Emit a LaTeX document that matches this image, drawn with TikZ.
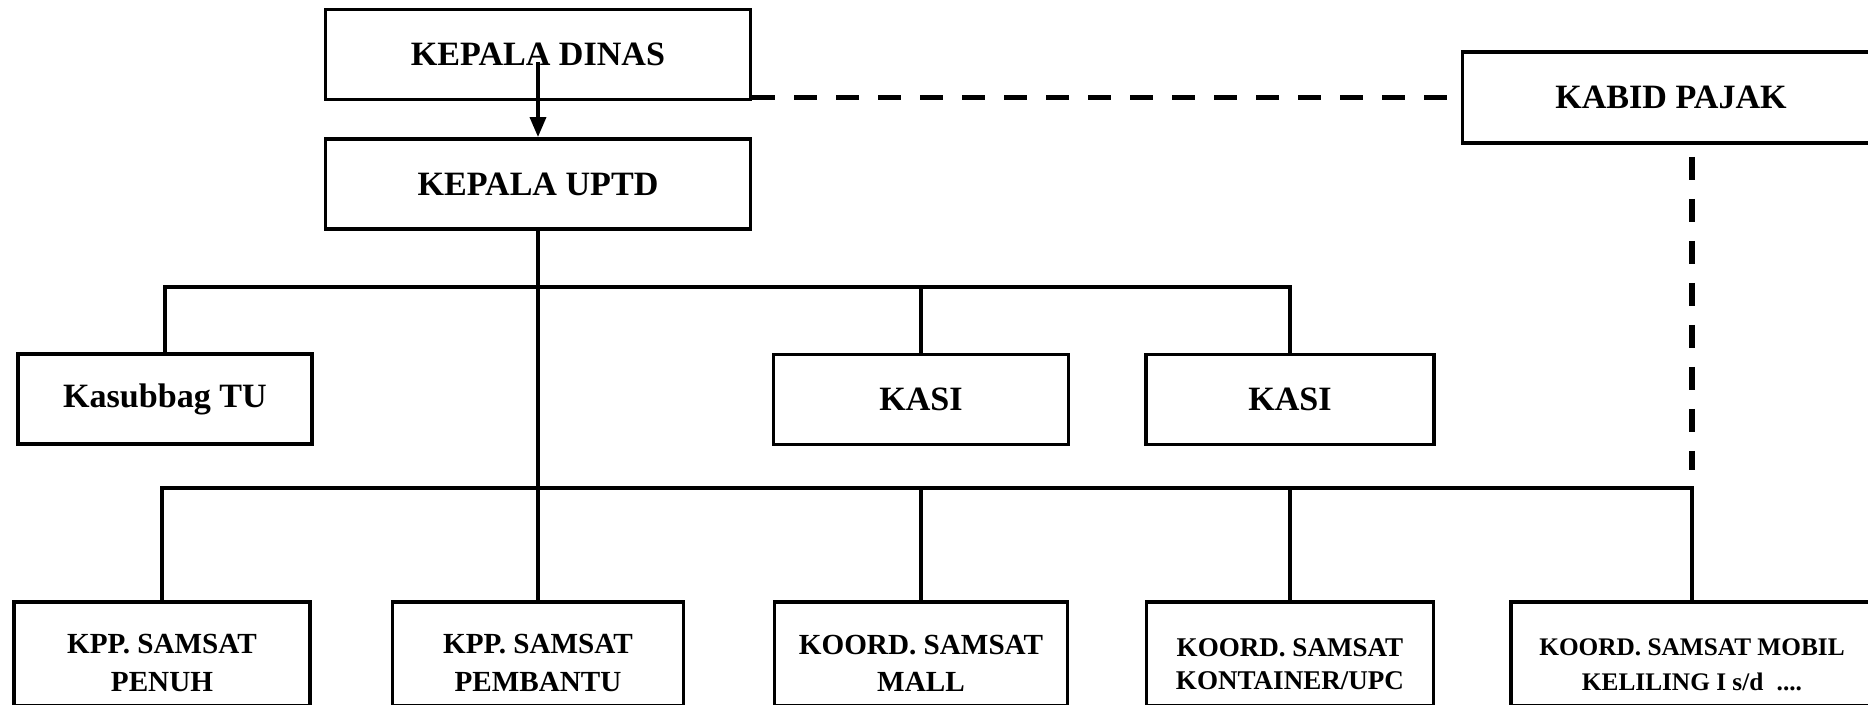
\documentclass[tikz,border=0pt]{standalone}
\usepackage{fontspec}
\setmainfont{Liberation Serif}
\usetikzlibrary{arrows.meta}

\newcommand{\lowstrut}{\rule{0pt}{3.8mm}}

\tikzset{
    box/.style={draw, line width=1.1pt, inner sep=0pt, align=center, minimum height=9mm,
        font=\fontsize{9.7}{11}\selectfont\bfseries},
    lowbox/.style={box, minimum height=10.4mm, font=\fontsize{8.3}{10.8}\selectfont\bfseries},
    link/.style={line width=1pt},
    dash link/.style={line width=1.5pt, dash pattern=on 2.3mm off 1.9mm},
}

\begin{document}
\begin{tikzpicture}[x=0.1mm, y=-0.1mm]
    \clip (0,0) rectangle (1868,705);

    \node[box, minimum width=42.5mm] (dinas) at (538,54.5) {KEPALA DINAS};
    \node[box, minimum width=42.5mm] (uptd) at (538,184) {KEPALA UPTD};
    \node[box, minimum width=41.7mm, minimum height=9.1mm] (kabid) at (1671,97.5) {KABID PAJAK};

    \node[box, minimum width=29.4mm] (tu) at (165,399) {Kasubbag TU};
    \node[box, minimum width=29.5mm] (kasi1) at (921,399.5) {KASI};
    \node[box, minimum width=28.8mm] (kasi2) at (1290,399.5) {KASI};

    \node[lowbox, minimum width=29.6mm] (penuh) at (162,654) {\lowstrut KPP. SAMSAT\\PENUH};
    \node[lowbox, minimum width=29.1mm] (pembantu) at (538,654) {\lowstrut KPP. SAMSAT\\PEMBANTU};
    \node[lowbox, minimum width=29.3mm] (mall) at (921,654) {\lowstrut KOORD. SAMSAT\\MALL};
    \node[lowbox, minimum width=28.7mm, font=\fontsize{7.7}{9.5}\selectfont\bfseries] (kontainer) at (1290,654) {\lowstrut KOORD. SAMSAT\\KONTAINER/UPC};
    \node[lowbox, minimum width=36.2mm, font=\fontsize{7.2}{10}\selectfont\bfseries] (mobil) at (1692,654) {\lowstrut KOORD. SAMSAT MOBIL\\KELILING I s/d \;....};

    \coordinate (bus1) at (0,287);
    \coordinate (bus2) at (0,488);

    % main line
    \draw[link, -{Triangle[length=2mm,width=1.6mm]}] ([yshift=-0.8mm]dinas.center) -- (uptd.north);
    \draw[link] (uptd.south) -- (pembantu.north);

    % staff row
    \draw[link] (tu.north) -- (tu.north |- bus1) -- (kasi2.north |- bus1) -- (kasi2.north);
    \draw[link] (kasi1.north |- bus1) -- (kasi1.north);

    % samsat row
    \draw[link] (penuh.north) -- (penuh.north |- bus2) -- (mobil.north |- bus2) -- (mobil.north);
    \draw[link] (mall.north |- bus2) -- (mall.north);
    \draw[link] (kontainer.north |- bus2) -- (kontainer.north);

    % coordination
    \draw[dash link] (dinas.east |- kabid.west) -- (kabid.west);
    \draw[dash link, shorten <=1.2mm, shorten >=1.8mm] (kabid.south -| mobil.north) -- (mobil.north |- bus2);
\end{tikzpicture}
\end{document}
